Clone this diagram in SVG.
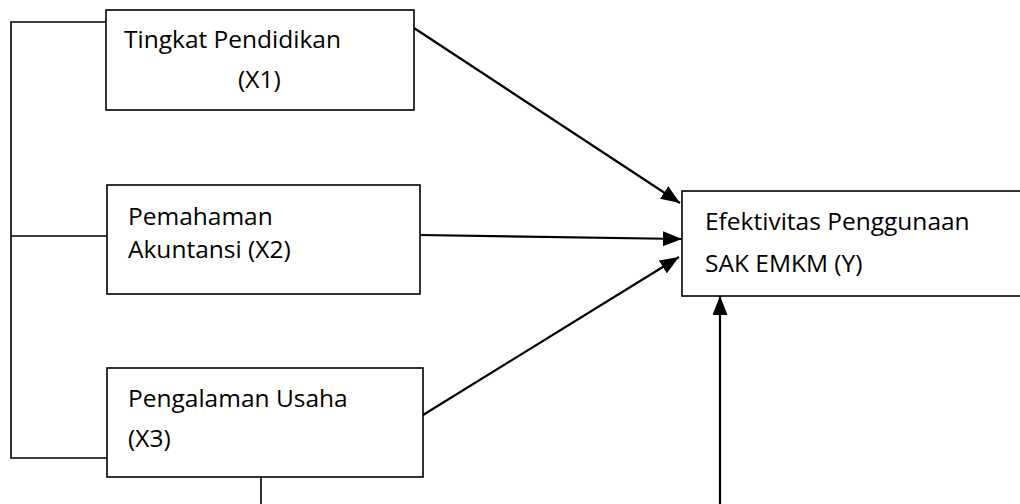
<svg xmlns="http://www.w3.org/2000/svg" width="1020" height="504" viewBox="0 0 1020 504">
<style>
.box{fill:#fff;stroke:#000;stroke-width:1.6}
.ln{fill:none;stroke:#000;stroke-width:1.6}
.ar{fill:none;stroke:#000;stroke-width:2.2}
text{font-family:"Open Sans","Noto Sans","Liberation Sans",sans-serif;font-size:24.5px;fill:#000}
</style>
<defs>
<marker id="arrow" viewBox="0 0 19 15" refX="19" refY="7.5" markerWidth="19" markerHeight="15" markerUnits="userSpaceOnUse" orient="auto">
<path d="M0,0 L19,7.5 L0,15 Z" fill="#000"/>
</marker>
</defs>
<g id="connectors">
<polyline class="ln" points="106,22 11,22 11,458 107,458"/>
<line class="ln" x1="11" y1="236" x2="107" y2="236"/>
<line class="ln" x1="261" y1="477" x2="261" y2="504"/>
<line class="ar" x1="414" y1="28" x2="680" y2="203" marker-end="url(#arrow)"/>
<line class="ar" x1="420" y1="235" x2="682" y2="239" marker-end="url(#arrow)"/>
<line class="ar" x1="423" y1="415" x2="679" y2="257" marker-end="url(#arrow)"/>
<line class="ar" x1="720" y1="504" x2="720" y2="296" marker-end="url(#arrow)"/>
</g>
<g id="x1">
<rect class="box" x="106" y="10" width="308" height="100"/>
<text x="124" y="48">Tingkat Pendidikan</text>
<text x="238" y="88">(X1)</text>
</g>
<g id="x2">
<rect class="box" x="107" y="185" width="313" height="109"/>
<text x="128" y="225">Pemahaman</text>
<text x="128" y="258">Akuntansi (X2)</text>
</g>
<g id="x3">
<rect class="box" x="107" y="368" width="316" height="109"/>
<text x="128" y="407">Pengalaman Usaha</text>
<text x="128" y="447">(X3)</text>
</g>
<g id="y">
<rect class="box" x="682" y="191" width="345" height="105"/>
<text x="705" y="230">Efektivitas Penggunaan</text>
<text x="705" y="272">SAK EMKM (Y)</text>
</g>
</svg>
